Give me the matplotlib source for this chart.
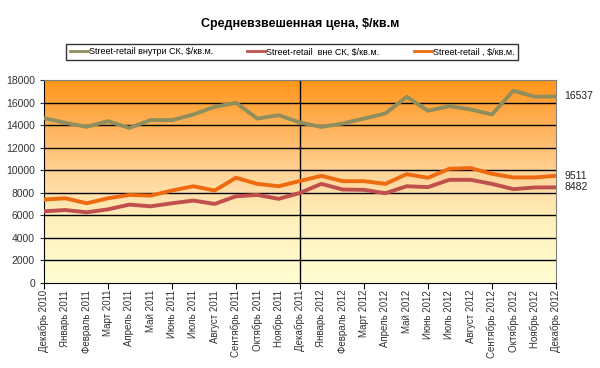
import matplotlib
matplotlib.use('Agg')
import matplotlib.pyplot as plt
import numpy as np
from matplotlib.colors import LinearSegmentedColormap

plt.rcParams['font.family'] = ['Liberation Sans', 'DejaVu Sans']

# months, Dec 2010 .. Dec 2012
months = ['Декабрь 2010', 'Январь 2011', 'Февраль 2011', 'Март 2011', 'Апрель 2011',
          'Май 2011', 'Июнь 2011', 'Июль 2011', 'Август 2011', 'Сентябрь 2011',
          'Октябрь 2011', 'Ноябрь 2011', 'Декабрь 2011', 'Январь 2012', 'Февраль 2012',
          'Март 2012', 'Апрель 2012', 'Май 2012', 'Июнь 2012', 'Июль 2012',
          'Август 2012', 'Сентябрь 2012', 'Октябрь 2012', 'Ноябрь 2012', 'Декабрь 2012']

# street-retail inside shopping centres
inside_sk = [14620, 14200, 13850, 14350, 13750, 14450, 14450, 14940, 15620, 15980,
             14580, 14880, 14230, 13840, 14140, 14580, 15030, 16510, 15270, 15680,
             15390, 14940, 17050, 16520, 16537]
# street-retail outside shopping centres
outside_sk = [6360, 6470, 6270, 6530, 6950, 6800, 7070, 7310, 7010, 7690,
              7810, 7460, 7990, 8790, 8290, 8260, 7960, 8580, 8500, 9150,
              9150, 8790, 8320, 8470, 8482]
# street-retail total
total = [7400, 7510, 7070, 7510, 7810, 7750, 8200, 8580, 8200, 9330,
         8790, 8580, 9050, 9500, 9030, 9030, 8790, 9650, 9330, 10130,
         10190, 9680, 9360, 9360, 9511]

labels = ['Street-retail внутри СК, $/кв.м.', 'Street-retail  вне СК, $/кв.м.',
          'Street-retail , $/кв.м.']
colors = ['#8F8E5C', '#C0504D', '#EE6A10']

fig = plt.figure(figsize=(6, 3.68), dpi=100)
ax = fig.add_axes([44 / 600, 85 / 368, 512 / 600, 203 / 368])

x = np.arange(len(months))
n = len(months) - 1

# gradient background
cmap = LinearSegmentedColormap.from_list('bg', [
    (0.0, '#FFFDD2'), (0.3, '#FFF1BC'), (0.5, '#FFD9A0'),
    (0.75, '#FFB560'), (1.0, '#FF961A')])
grad = np.linspace(0, 1, 256).reshape(-1, 1)
ax.imshow(grad, cmap=cmap, aspect='auto', origin='lower',
          extent=[0, n, 0, 18000], zorder=0)

for v in range(2000, 18000, 2000):
    ax.axhline(v, color='black', lw=1, zorder=1)
ax.axvline(12, color='black', lw=1, zorder=1)

for vals, lab, c in zip([inside_sk, outside_sk, total], labels, colors):
    ax.plot(x, vals, color=c, lw=2.8, label=lab, zorder=3, solid_joinstyle='round')

for vals in [inside_sk, total, outside_sk]:
    ax.text(n + 0.4, vals[-1], str(vals[-1]), fontsize=7.5, va='center',
            ha='left', color='#222222', clip_on=False)

ax.set_xlim(0, n)
ax.set_ylim(0, 18000)
ax.set_yticks(range(0, 18001, 2000))
ax.tick_params(axis='y', labelsize=7.5, length=3, direction='out', colors='#333333')
ax.set_xticks(x[::3])
ax.set_xticklabels([])
ax.tick_params(axis='x', length=4, direction='out')
for i, m in enumerate(months):
    ax.text(i, -600, m, rotation=90, ha='center', va='top', fontsize=7,
            color='#333333', clip_on=False)

for s in ['top', 'right']:
    ax.spines[s].set_color('#808080')
ax.spines['left'].set_color('black')
ax.spines['bottom'].set_color('black')

fig.text(0.5, 344 / 368, 'Средневзвешенная цена, $/кв.м', ha='center', va='center',
         fontsize=9, fontweight='bold')

leg = fig.legend(loc='center', bbox_to_anchor=(292 / 600, 316 / 368), ncol=3,
                 fontsize=6.5, frameon=True, fancybox=False, handlelength=2.0,
                 handletextpad=0.1, columnspacing=3.8, borderpad=0.4)
leg.get_frame().set_edgecolor('black')
leg.get_frame().set_linewidth(1)
for h in leg.get_lines():
    h.set_linewidth(2)

fig.savefig('out.png', dpi=100)
